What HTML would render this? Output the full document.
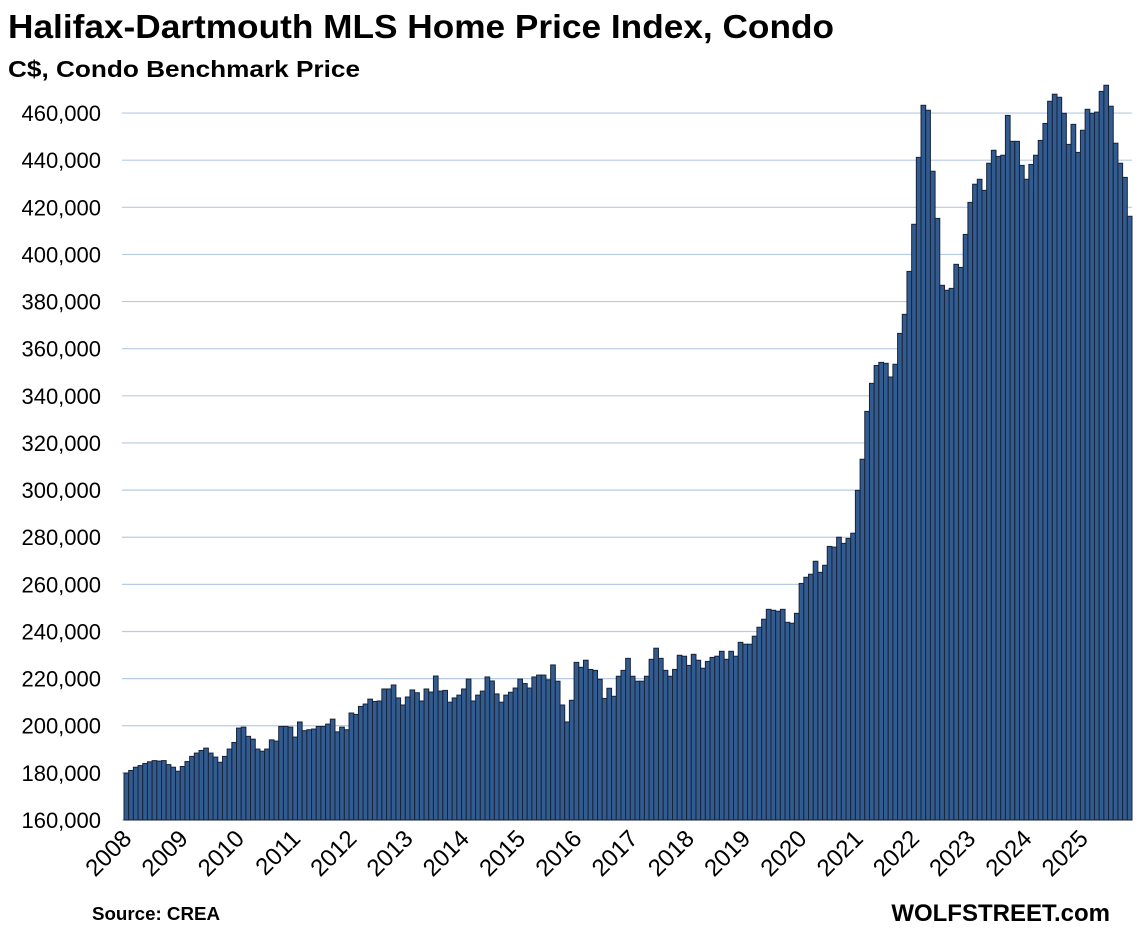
<!DOCTYPE html>
<html><head><meta charset="utf-8"><style>
html,body{margin:0;padding:0;background:#fff;}
svg{display:block;font-family:"Liberation Sans",Arial,sans-serif;}
</style></head><body>
<svg id="c" width="1141" height="930" xmlns="http://www.w3.org/2000/svg">
<text x="8" y="38" font-size="33" font-weight="bold" fill="#000" textLength="826" lengthAdjust="spacingAndGlyphs">Halifax-Dartmouth MLS Home Price Index, Condo</text>
<text x="8" y="77" font-size="23" font-weight="bold" fill="#000" textLength="352" lengthAdjust="spacingAndGlyphs">C$, Condo Benchmark Price</text>
<text x="92" y="920" font-size="18" font-weight="bold" fill="#000" textLength="128" lengthAdjust="spacingAndGlyphs">Source: CREA</text>
<text x="1110" y="921" font-size="24" font-weight="bold" fill="#000" text-anchor="end">WOLFSTREET.com</text>
<g id="grid"></g><g id="bars"></g><g id="lab"></g>
</svg>
<script>
var d=[179.9,181.0,182.4,183.1,184.0,184.7,185.2,185.0,185.2,183.5,182.4,180.7,
182.7,184.8,187.0,188.4,189.5,190.5,188.4,186.7,184.5,187.0,190.1,192.9,
199.0,199.4,195.5,194.3,190.1,189.2,190.1,194.0,193.5,199.7,199.7,199.4,
195.2,201.6,197.9,198.3,198.6,199.7,199.7,200.7,202.8,197.4,199.4,198.3,
205.4,204.8,208.2,209.2,211.3,210.3,210.5,215.6,215.6,217.3,211.8,208.8,
212.2,215.2,214.0,210.5,215.6,214.3,221.1,214.7,215.0,210.0,211.8,213.0,
215.6,219.8,210.5,213.0,214.7,220.7,219.0,213.5,210.0,213.0,214.2,216.0,
219.8,217.9,216.0,220.7,221.5,221.5,219.5,225.8,218.9,208.8,201.6,210.8,
226.9,224.8,227.8,223.9,223.5,219.7,211.6,215.9,212.5,221.0,223.5,228.6,
221.0,218.9,218.9,221.0,228.2,232.9,228.6,223.5,221.0,223.9,229.9,229.5,
225.6,230.3,227.8,224.4,227.3,229.0,229.5,231.6,228.2,231.6,229.5,235.4,
234.6,234.6,238.0,241.8,245.2,249.4,249.0,248.6,249.4,243.9,243.5,247.7,
260.4,263.0,264.3,269.8,265.1,268.1,276.1,275.8,280.0,277.4,279.5,281.7,
299.9,313.1,333.4,345.3,352.9,354.2,353.8,348.0,353.4,366.5,374.6,392.8,
412.8,441.2,463.3,461.2,435.3,415.3,386.9,384.8,385.6,395.8,394.5,408.5,
422.1,429.8,431.9,427.2,438.7,444.2,441.6,442.1,459.0,448.0,448.0,437.8,
431.9,438.2,442.1,448.4,455.6,465.0,468.0,466.7,459.9,446.7,455.2,443.3,
452.7,461.6,459.9,460.4,469.2,471.8,462.9,447.2,438.7,432.7,416.2];
var NS="http://www.w3.org/2000/svg";
function el(p,t,a,txt){var e=document.createElementNS(NS,t);for(var k in a)e.setAttribute(k,a[k]);if(txt)e.textContent=txt;p.appendChild(e);return e;}
var g=document.getElementById('grid'),b=document.getElementById('bars'),l=document.getElementById('lab');
function Y(v){return 820-(v-160)/20*47.13;}
for(var v=160;v<=460;v+=20){var y=Y(v);
 el(g,'line',{x1:122,x2:1132,y1:y,y2:y,stroke:v==160?'#c9c9c9':'#b7cbe4','stroke-width':1.2});
 el(l,'text',{x:101,y:y+8,'font-size':22,'text-anchor':'end',fill:'#000'},v+',000');}
var x0=124,w=1008/215;
for(var k=0;k<d.length;k++){var y=Y(d[k]);
 el(b,'rect',{x:x0+k*w,y:y,width:w,height:820-y,fill:'#325b8f',stroke:'#17243b','stroke-width':1});}
for(var k=0;k<18;k++){var x=x0+k*12*w;
 el(l,'text',{x:0,y:0,'font-size':24,'text-anchor':'end',fill:'#000',transform:'translate('+(x+9)+',840) rotate(-45)'},String(2008+k));}
</script>
</body></html>
